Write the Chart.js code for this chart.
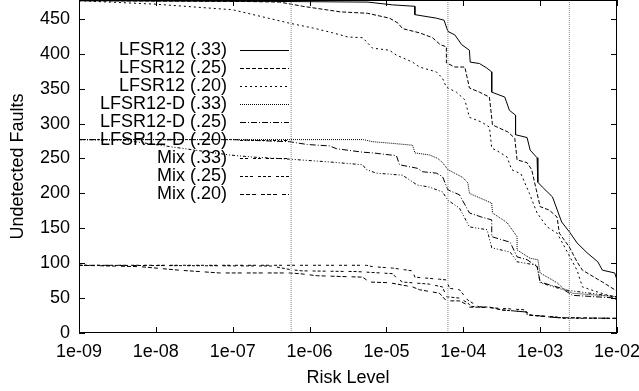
<!DOCTYPE html>
<html>
<head>
<meta charset="utf-8">
<title>Undetected Faults vs Risk Level</title>
<script src="https://cdn.jsdelivr.net/npm/chart.js@4.4.1/dist/chart.umd.min.js"></script>
<style>
  html, body { margin: 0; padding: 0; background: #fff; }
  .chart-box { width: 639px; height: 391px; }
</style>
</head>
<body>
<div class="chart-box"><canvas id="myChart" width="639" height="391"></canvas></div>
<script>
// each point: [log10(risk level), undetected faults]
const lfsr12_33 = [[-9,476],[-6.5,475],[-5.24,474],[-4.92,470],[-4.63,468],[-4.63,456],[-4.35,451],[-4.25,448],[-4.2,432],[-4.11,427],[-4.02,413],[-3.92,405],[-3.91,388],[-3.79,386],[-3.7,380],[-3.63,374],[-3.63,345],[-3.46,338],[-3.4,319],[-3.32,312],[-3.32,284],[-3.17,280],[-3.13,262],[-3.04,251],[-3.03,234],[-3.03,216],[-2.97,209],[-2.84,195],[-2.72,159],[-2.62,145],[-2.52,129],[-2.39,115],[-2.25,102],[-2.19,90],[-2.03,86],[-2,76]];
const lfsr12_25 = [[-9,476],[-6.9,475],[-6.39,474],[-6.09,468],[-5.6,460],[-5.25,458],[-4.96,451],[-4.85,444],[-4.79,436],[-4.57,430],[-4.4,423],[-4.3,413],[-4.22,410],[-4.22,387],[-4.11,381],[-3.98,381],[-3.92,351],[-3.79,345],[-3.66,338],[-3.62,298],[-3.42,288],[-3.33,279],[-3.3,248],[-3.17,244],[-3.11,234],[-3.05,205],[-3.0,181],[-2.88,176],[-2.78,166],[-2.75,143],[-2.62,123],[-2.52,102],[-2.45,90],[-2.19,73],[-2.03,62],[-2,60]];
const lfsr12_20 = [[-9,476],[-8,471],[-7,463],[-6.27,444],[-6.14,441],[-5.96,437],[-5.7,430],[-5.5,424],[-5.31,423],[-5.18,408],[-4.96,405],[-4.87,398],[-4.66,388],[-4.57,381],[-4.35,374],[-4.27,365],[-4.22,352],[-4.09,345],[-3.98,334],[-3.92,309],[-3.76,302],[-3.66,295],[-3.63,265],[-3.53,259],[-3.43,252],[-3.37,234],[-3.25,228],[-3.14,200],[-3.04,172],[-2.91,152],[-2.78,143],[-2.71,129],[-2.52,90],[-2.45,66],[-2.26,59],[-2.06,52],[-2,47]];
const lfsrD_33 = [[-9,277],[-5.3,277],[-5.18,274],[-4.96,272],[-4.66,269],[-4.63,258],[-4.44,255],[-4.33,250],[-4.27,244],[-4.2,234],[-4.01,223],[-3.94,215],[-3.92,200],[-3.63,186],[-3.62,172],[-3.43,158],[-3.3,138],[-3.3,119],[-3.13,107],[-3.03,105],[-3.0,86],[-2.78,72],[-2.7,64],[-2.58,57],[-2,52]];
const lfsrD_25 = [[-9,277],[-7.0,277],[-6.26,274],[-6.03,270],[-5.74,268],[-5.65,264],[-5.31,259],[-5.18,258],[-4.87,254],[-4.83,241],[-4.6,236],[-4.53,231],[-4.35,229],[-4.27,224],[-4.2,205],[-4.05,198],[-3.92,172],[-3.76,166],[-3.63,162],[-3.63,138],[-3.39,130],[-3.3,109],[-3.17,105],[-3.04,95],[-3.0,73],[-2.72,64],[-2.58,54],[-2,50]];
const lfsrD_20 = [[-9,277],[-8.4,276],[-7.04,255],[-6.74,252],[-6.26,249],[-5.74,245],[-5.31,241],[-5.26,234],[-5.13,229],[-4.79,226],[-4.6,212],[-4.44,209],[-4.27,202],[-4.2,190],[-4.05,179],[-3.92,152],[-3.69,148],[-3.63,122],[-3.39,116],[-3.3,102],[-3.04,97],[-3.0,72],[-2.7,62],[-2,52]];
const mix_33 = [[-9,97],[-5.26,97],[-5.18,95],[-4.92,93],[-4.66,89],[-4.63,80],[-4.31,77],[-4.22,76],[-4.18,64],[-4.05,62],[-3.94,47],[-3.79,37],[-3.62,36],[-3.17,33],[-3.17,26],[-2.78,23],[-2.75,21],[-2,21]];
const mix_25 = [[-9,97],[-6.5,96],[-6.26,91],[-6.1,89],[-5.39,88],[-4.92,85],[-4.87,79],[-4.79,73],[-4.44,70],[-4.27,66],[-4.22,52],[-4.05,50],[-3.94,43],[-3.9,38],[-3.66,37],[-3.5,33],[-3.17,30],[-3.17,26],[-2.78,22],[-2,21]];
const mix_20 = [[-9,97],[-8.2,95],[-7.7,90],[-7.17,86],[-6.26,86],[-6.13,85],[-5.9,82],[-5.31,80],[-5.22,73],[-4.96,72],[-4.66,66],[-4.57,62],[-4.31,57],[-4.22,46],[-4.05,46],[-3.94,40],[-3.92,37],[-3.66,37],[-3.49,33],[-3.17,30],[-3.17,26],[-2.78,22],[-2,21]];

const seriesNames = ['LFSR12 (.33)', 'LFSR12 (.25)', 'LFSR12 (.20)', 'LFSR12-D (.33)', 'LFSR12-D (.25)', 'LFSR12-D (.20)', 'Mix (.33)', 'Mix (.25)', 'Mix (.20)'];
const seriesData = [lfsr12_33, lfsr12_25, lfsr12_20, lfsrD_33, lfsrD_25, lfsrD_20, mix_33, mix_25, mix_20];
const dashes = [[], [4, 2], [2, 3], [1, 1], [6, 2, 1, 2], [3, 2, 1, 2, 1, 2], [3, 2, 3, 5], [3, 2, 3, 2, 3, 5], [4, 2, 4, 2, 4, 5]];

// vertical reference lines, log10(risk level)
const markerRisk = [-6.24, -4.2, -2.62];

const xTickExp = [-9, -8, -7, -6, -5, -4, -3, -2];
const xTickLabels = ['1e-09', '1e-08', '1e-07', '1e-06', '1e-05', '1e-04', '1e-03', '1e-02'];
const yTicks = [0, 50, 100, 150, 200, 250, 300, 350, 400, 450];
const yMax = 477;

Chart.defaults.font.family = '"Liberation Sans", Arial, sans-serif';
Chart.defaults.font.size = 18;
Chart.defaults.color = '#000';

const datasets = seriesData.map((pts, i) => ({
    label: seriesNames[i],
    data: pts.map(p => ({x: Math.pow(10, p[0]), y: p[1]})),
    borderColor: '#000',
    borderWidth: 1,
    borderDash: dashes[i],
    pointRadius: 0,
    tension: 0,
    fill: false
}));
markerRisk.forEach(m => {
    datasets.unshift({
        label: '',
        data: [{x: Math.pow(10, m), y: 0}, {x: Math.pow(10, m), y: yMax}],
        borderColor: '#888',
        borderWidth: 1,
        borderDash: [1, 1],
        pointRadius: 0,
        fill: false
    });
});

// gnuplot style frame, inward ticks and key
const gnuFrame = {
    id: 'gnuFrame',
    afterDatasetsDraw(chart) {
        const {ctx, chartArea: a, scales: {x, y}} = chart;
        ctx.save();
        ctx.strokeStyle = '#000';
        ctx.lineWidth = 1;
        ctx.setLineDash([]);
        ctx.strokeRect(a.left + 0.5, a.top + 0.5, a.right - a.left - 1, a.bottom - a.top - 1);
        ctx.beginPath();
        yTicks.forEach(v => {
            const py = Math.round(y.getPixelForValue(v)) + 0.5;
            ctx.moveTo(a.left, py); ctx.lineTo(a.left + 6, py);
            ctx.moveTo(a.right, py); ctx.lineTo(a.right - 6, py);
        });
        xTickExp.forEach(e => {
            const px = Math.round(x.getPixelForValue(Math.pow(10, e))) + 0.5;
            ctx.moveTo(px, a.bottom); ctx.lineTo(px, a.bottom - 6);
            ctx.moveTo(px, a.top); ctx.lineTo(px, a.top + 6);
        });
        ctx.stroke();

        // key
        ctx.font = '18px "Liberation Sans", Arial, sans-serif';
        ctx.textAlign = 'right';
        ctx.textBaseline = 'middle';
        ctx.fillStyle = '#000';
        const ds = chart.data.datasets.filter(d => d.label);
        ds.forEach((d, i) => {
            const ry = 50 + i * 18;
            ctx.fillText(d.label, 227, ry);
            ctx.beginPath();
            ctx.setLineDash(d.borderDash);
            ctx.moveTo(240, ry + 0.5);
            ctx.lineTo(289, ry + 0.5);
            ctx.stroke();
        });
        ctx.restore();
    }
};

new Chart(document.getElementById('myChart').getContext('2d'), {
    type: 'line',
    data: {datasets: datasets},
    options: {
        responsive: false,
        animation: false,
        devicePixelRatio: 1,
        layout: {padding: {left: 0, right: 22, top: 0, bottom: 0}},
        plugins: {legend: {display: false}, tooltip: {enabled: false}},
        scales: {
            x: {
                type: 'logarithmic',
                min: 1e-9,
                max: 1e-2,
                grid: {display: false, drawTicks: false},
                border: {display: false},
                afterBuildTicks: s => { s.ticks = xTickExp.map(e => ({value: Math.pow(10, e)})); },
                afterFit: s => { s.height = 58; s.paddingLeft = 0; s.paddingRight = 0; },
                ticks: {
                    padding: 8,
                    maxRotation: 0,
                    autoSkip: false,
                    callback: (v, i) => xTickLabels[i]
                },
                title: {display: true, text: 'Risk Level', padding: {top: 0, bottom: 2}}
            },
            y: {
                min: 0,
                max: yMax,
                grid: {display: false, drawTicks: false},
                border: {display: false},
                afterBuildTicks: s => { s.ticks = yTicks.map(v => ({value: v})); },
                afterFit: s => { s.width = 79; s.paddingTop = 0; s.paddingBottom = 0; },
                ticks: {padding: 9},
                title: {display: true, text: 'Undetected Faults', padding: {top: 7, bottom: 0}}
            }
        }
    },
    plugins: [gnuFrame]
});
</script>
</body>
</html>
